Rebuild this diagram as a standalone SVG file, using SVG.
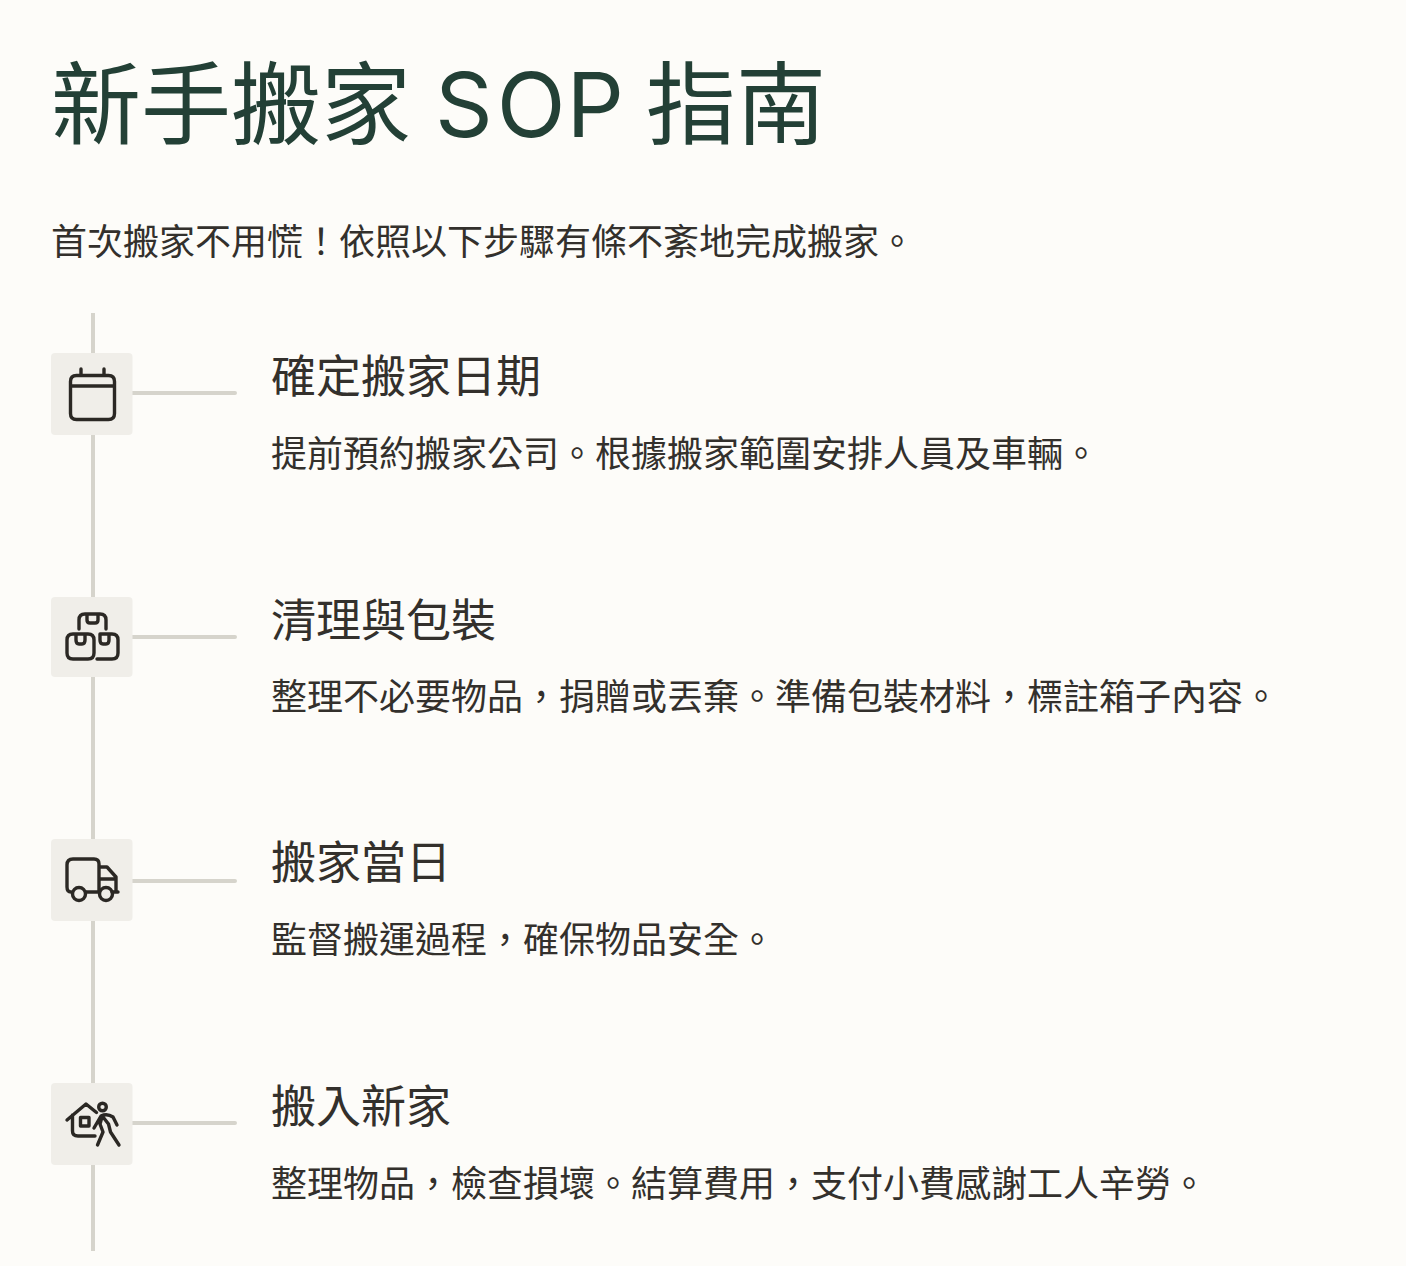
<svg xmlns="http://www.w3.org/2000/svg" width="1406" height="1266" viewBox="0 0 1406 1266">
<style>
text{font-family:"Noto Sans CJK TC",sans-serif;fill:#33302c}
.t{font-size:90px;fill:#234036}
.l{font-family:Inter,"Noto Sans",sans-serif}
.s{font-size:36px}
.h{font-size:45px}
.b{fill:#f0eee9}
.c{stroke:#d6d4cc;stroke-width:4;fill:none;stroke-linecap:round}
.i{fill:none;stroke:#2b2824;stroke-width:3.4;stroke-linecap:round;stroke-linejoin:round}
</style>
<rect width="1406" height="1266" fill="#fdfcf9"/>
<g id="header">
<text class="t" x="51" y="137">新手搬家<tspan class="l" x="435" dx="0 4 1">SOP</tspan><tspan x="646">指南</tspan></text>
<text class="s" x="51" y="255">首次搬家不用慌！依照以下步驟有條不紊地完成搬家。</text>
</g>
<g id="connectors">
<path class="c" style="stroke-linecap:butt" d="M93 313V1251"/>
<path class="c" d="M132 393H235M132 637H235M132 881H235M132 1123H235"/>
</g>
<g id="step1">
<rect class="b" x="51" y="353" width="81.500" height="82" rx="4"/>
<path class="i" d="M81 369V375M104 369V375M70.500 386H114.500M76.500 375.500H108.500Q114.500 375.500 114.500 381.500V413.500Q114.500 419.500 108.500 419.500H76.500Q70.500 419.500 70.500 413.500V381.500Q70.500 375.500 76.500 375.500Z"/>
<text class="h" x="271" y="393">確定搬家日期</text>
<text class="s" x="271" y="467">提前預約搬家公司。根據搬家範圍安排人員及車輛。</text>
</g>
<g id="step2">
<rect class="b" x="51" y="597" width="81.500" height="80" rx="4"/>
<path class="i" d="M79 629V620Q79 614 85 614H100Q106 614 106 620V629M87 614V620Q87 623 90 623H95Q98 623 98 620V614M73 634H88Q94 634 94 640V653Q94 659 88 659H73Q67 659 67 653V640Q67 634 73 634ZM76 634V640Q76 644 79 644H82Q85 644 85 640V634M100 634H112Q118 634 118 640V653Q118 659 112 659H97M100 634V640Q100 644 103 644H106Q109 644 109 640V634"/>
<text class="h" x="271" y="637">清理與包裝</text>
<text class="s" x="271" y="710">整理不必要物品，捐贈或丟棄。準備包裝材料，標註箱子內容。</text>
</g>
<g id="step3">
<rect class="b" x="51" y="839" width="81.500" height="82" rx="4"/>
<path class="i" d="M71 892Q67 892 67 887V865Q67 859 73 859H94Q99 859 99 864V892M99 867H107L116 877V892M112 892H118M99 879H116M86 892H99"/>
<circle class="i" cx="79" cy="894" r="6.500"/><circle class="i" cx="106" cy="894" r="6.500"/>
<text class="h" x="271" y="879">搬家當日</text>
<text class="s" x="271" y="953">監督搬運過程，確保物品安全。</text>
</g>
<g id="step4">
<rect class="b" x="51" y="1083" width="81.500" height="82" rx="4"/>
<path class="i" d="M67 1120L86 1104L96.500 1112.500M72.500 1115V1131Q72.500 1136 78 1136H95M80.500 1117.500H89V1126H80.500ZM94 1128L101 1116Q107 1113 113 1117L117 1125M103 1117L108.500 1124L110.500 1132L119 1145M102 1117L100 1124L103 1132L97.500 1145"/>
<circle class="i" cx="102.500" cy="1107" r="3.800"/>
<text class="h" x="271" y="1123">搬入新家</text>
<text class="s" x="271" y="1197">整理物品，檢查損壞。結算費用，支付小費感謝工人辛勞。</text>
</g>
</svg>
